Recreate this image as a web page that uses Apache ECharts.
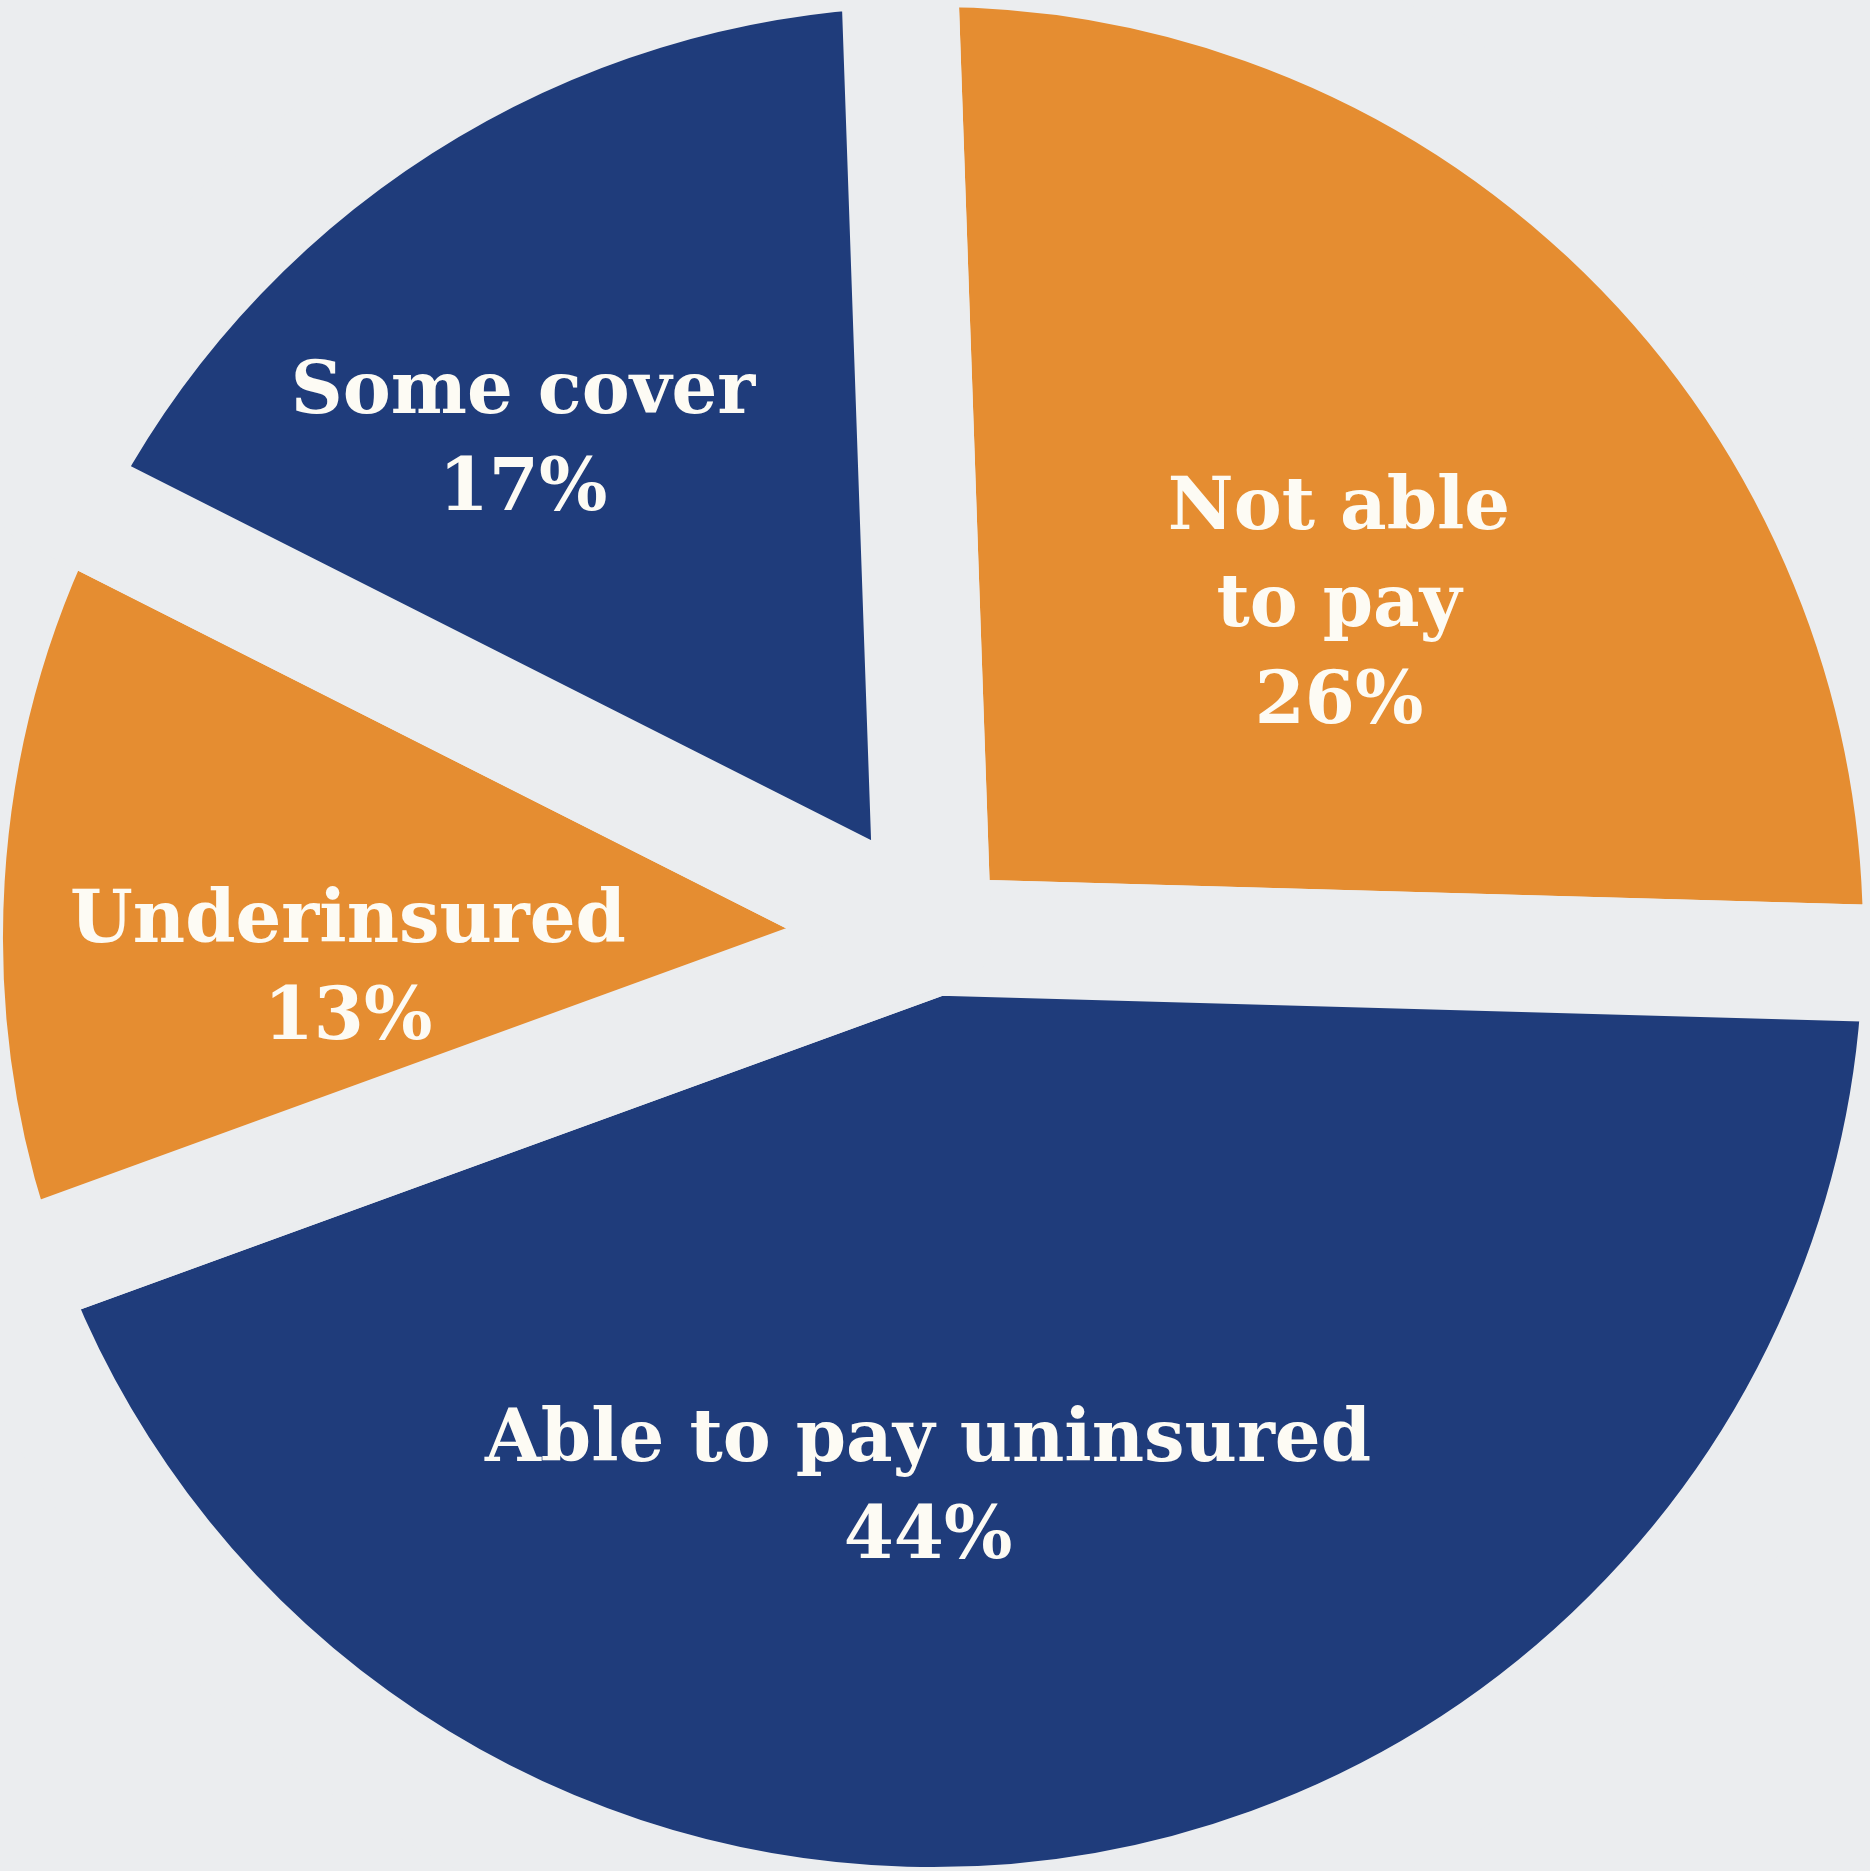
<!DOCTYPE html>
<html>
<head>
    <meta charset="utf-8">
    <title>Cover</title>
    <script src="https://cdn.jsdelivr.net/npm/echarts@6.0.0/dist/echarts.min.js"></script>
    <style>
        html, body { margin: 0; padding: 0; background: #ebedef; }
    </style>
</head>
<body>
<div id="chart" style="width: 1870px; height: 1871px;"></div>
<script>
    // data, clockwise from 12 o'clock
    var categories = ['Not able\nto pay', 'Able to pay uninsured', 'Underinsured', 'Some cover'];
    var shares = [26, 44, 13, 17];
    var sliceColors = ['#e58d31', '#1f3c7b', '#e58d31', '#1f3c7b'];

    var bg = '#ebedef';
    var cx = 933, cy = 937;
    var gap = 117;   // the gaps are a thick border in the background colour
    // label centres relative to the pie centre
    var labelAt = [[406, -330], [-5, 554], [-585, 35], [-410, -494]];

    var myChart = echarts.init(document.getElementById('chart'));

    var option = {
        backgroundColor: bg,
        animation: false,
        series: [{
            type: 'pie',
            center: [cx, cy],
            radius: [0, 930 + gap / 2],
            startAngle: 92,
            clockwise: true,
            avoidLabelOverlap: false,
            emphasis: { disabled: true },
            itemStyle: {
                borderColor: bg,
                borderWidth: gap,
                borderJoin: 'round'
            },
            label: {
                show: true,
                position: 'inside',
                color: '#fdfbf4',
                fontFamily: 'DejaVu Serif',
                fontWeight: 'bold',
                fontSize: 72,
                lineHeight: 97,
                formatter: function (p) {
                    return p.name + '\n' + p.value + '%';
                }
            },
            labelLine: { show: false },
            labelLayout: function (p) {
                var o = labelAt[p.dataIndex];
                return { x: cx + o[0], y: cy + o[1], align: 'center', verticalAlign: 'middle' };
            },
            data: categories.map(function (c, i) {
                return { name: c, value: shares[i], itemStyle: { color: sliceColors[i] } };
            })
        }]
    };

    myChart.setOption(option);
</script>
</body>
</html>
